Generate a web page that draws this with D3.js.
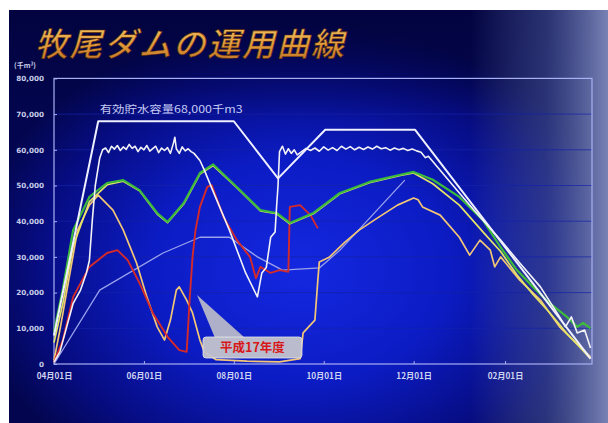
<!DOCTYPE html>
<html>
<head>
<meta charset="utf-8">
<script src="https://cdn.jsdelivr.net/npm/d3@7"></script>
<style>
  html, body { margin: 0; padding: 0; background: #ffffff; }
  svg { display: block; }
</style>
</head>
<body>
<svg id="chart" width="608" height="423"></svg>
<script>
// ---- data (storage in 千m³, dates as month/day within the water year Apr–Mar) ----
const titleText = "牧尾ダムの運用曲線";
const unitText = "(千m³)";
const capacityLabel = "有効貯水容量68,000千m3";
const calloutText = "平成17年度";

const yTicks = [0, 10000, 20000, 30000, 40000, 50000, 60000, 70000, 80000];
const xTicks = ["04/01", "06/01", "08/01", "10/01", "12/01", "02/01"];

// operating upper limit curve
const upperCurve = [
  ["04/01", 8000], ["05/01", 68000], ["08/01", 68000], ["08/31", 52000],
  ["10/02", 65600], ["12/02", 65600], ["03/31", 1500]
];

// storage (white)
const storageWhite = [
  ["04/01", 500], ["04/05", 3400], ["04/14", 17000], ["04/19", 20700], ["04/23", 25500],
  ["04/25", 29000], ["04/27", 40300], ["04/29", 50000], ["05/02", 57700], ["05/04", 60000],
  ["05/06", 60500], ["05/08", 59200], ["05/10", 61000], ["05/12", 60200], ["05/14", 61200],
  ["05/16", 59800], ["05/18", 60800], ["05/20", 60100], ["05/22", 61500], ["05/24", 60400],
  ["05/26", 61000], ["05/28", 59500], ["05/30", 60700], ["06/01", 60000], ["06/03", 61200],
  ["06/05", 59600], ["06/07", 60300], ["06/09", 61000], ["06/11", 59200], ["06/13", 60500],
  ["06/15", 59800], ["06/17", 60600], ["06/19", 59000], ["06/21", 61800], ["06/22", 63500],
  ["06/23", 60300], ["06/25", 59000], ["06/27", 60800], ["06/29", 59700], ["07/01", 60300],
  ["07/03", 59500], ["07/05", 59000], ["07/09", 57000], ["07/12", 54300], ["07/19", 47300],
  ["07/29", 37500], ["08/09", 25500], ["08/17", 18800], ["08/20", 25500], ["08/23", 27000],
  ["08/26", 35500], ["08/29", 37000], ["08/30", 44000], ["08/31", 50000], ["09/01", 59500],
  ["09/03", 61000], ["09/05", 58800], ["09/07", 60300], ["09/09", 59000], ["09/11", 60000],
  ["09/13", 58600], ["09/16", 59500], ["09/19", 60400], ["09/22", 59800], ["09/25", 60500],
  ["09/28", 59600], ["10/01", 60800], ["10/04", 59900], ["10/07", 60600], ["10/10", 59800],
  ["10/13", 61000], ["10/16", 60200], ["10/19", 60900], ["10/22", 60000], ["10/25", 60700],
  ["10/28", 60100], ["10/31", 60800], ["11/03", 60200], ["11/06", 61000], ["11/09", 60300],
  ["11/12", 60600], ["11/15", 59900], ["11/18", 60500], ["11/21", 60000], ["11/24", 60400],
  ["11/27", 59800], ["11/30", 60200], ["12/03", 59700], ["12/06", 59300], ["12/09", 57800],
  ["12/11", 58200], ["12/19", 54300], ["01/01", 47900], ["01/15", 41200], ["01/29", 34700],
  ["02/11", 28300], ["02/25", 21600], ["03/10", 13200], ["03/14", 10400], ["03/18", 13200],
  ["03/22", 8700], ["03/27", 9500], ["03/31", 4500]
];

// storage (green)
const storageGreen = [
  ["04/01", 9000], ["04/07", 21000], ["04/14", 37500], ["04/25", 46800], ["05/07", 50700],
  ["05/18", 51500], ["05/29", 48700], ["06/10", 42300], ["06/17", 39800], ["06/28", 45100],
  ["07/09", 53500], ["07/18", 55900], ["08/03", 49600], ["08/19", 43100], ["08/30", 42300],
  ["09/08", 39500], ["09/24", 42300], ["10/12", 47900], ["11/01", 51000], ["11/22", 53000],
  ["12/01", 53800], ["12/14", 51600], ["01/01", 46800], ["01/17", 40300], ["01/29", 32700],
  ["02/09", 26300], ["02/20", 21600], ["03/03", 17100], ["03/15", 13200], ["03/22", 10400],
  ["03/26", 11500], ["03/31", 10000]
];

// storage (yellow)
const storageYellow = [
  ["04/01", 6000], ["04/07", 17000], ["04/14", 33000], ["04/25", 45500], ["05/07", 50200],
  ["05/18", 51200], ["05/29", 48500], ["06/10", 42000], ["06/17", 39600], ["06/28", 44800],
  ["07/09", 53200], ["07/18", 55600], ["08/03", 49400], ["08/19", 42900], ["08/30", 42100],
  ["09/08", 39300], ["09/24", 42100], ["10/12", 47700], ["11/01", 50800], ["11/22", 52800],
  ["12/01", 53500], ["12/14", 50500], ["01/01", 44500], ["01/17", 37000], ["01/29", 31500],
  ["02/09", 25000], ["02/20", 19500], ["03/03", 14500], ["03/15", 8500], ["03/22", 5500],
  ["03/31", 1500]
];

// storage (gold)
const storageGold = [
  ["04/01", 1000], ["04/05", 9500], ["04/17", 37500], ["04/25", 44500], ["05/01", 47300],
  ["05/11", 43100], ["05/18", 37500], ["05/27", 28300], ["06/03", 18800], ["06/10", 10400],
  ["06/15", 6700], ["06/19", 12300], ["06/23", 20700], ["06/25", 21600], ["06/30", 17900],
  ["07/04", 14300], ["07/09", 6700], ["07/12", 3400], ["07/20", 1200], ["08/10", 800],
  ["09/01", 600], ["09/15", 1500], ["09/17", 8700], ["09/25", 12300], ["09/27", 23500],
  ["09/28", 28600], ["10/05", 30000], ["10/15", 34000], ["10/25", 37500], ["11/05", 40500],
  ["11/20", 44500], ["12/01", 46500], ["12/04", 46000], ["12/07", 44000], ["12/19", 41700],
  ["01/01", 35500], ["01/08", 30500], ["01/15", 34700], ["01/22", 31900], ["01/25", 27200],
  ["01/29", 30000], ["02/11", 23500], ["02/25", 17900], ["03/10", 10400], ["03/31", 2000]
];

// storage (lavender)
const storageLavender = [
  ["04/01", 0], ["05/02", 20700], ["06/14", 31100], ["07/09", 35500], ["07/29", 35500],
  ["08/17", 30000], ["09/03", 26300], ["09/28", 26900], ["10/12", 31900], ["11/25", 51500]
];

// storage 平成17年度 (red)
const storageRed = [
  ["04/01", 500], ["04/07", 6700], ["04/14", 18800], ["04/25", 27200], ["05/07", 31100],
  ["05/14", 31900], ["05/21", 29100], ["05/29", 22700], ["06/07", 14300], ["06/17", 7600],
  ["06/25", 3900], ["06/30", 3400], ["07/02", 17900], ["07/04", 30000], ["07/06", 37500],
  ["07/09", 44000], ["07/14", 49600], ["07/17", 50100], ["07/25", 41200], ["08/03", 34700],
  ["08/12", 30000], ["08/16", 24000], ["08/19", 27200], ["08/26", 25500], ["09/01", 26300],
  ["09/07", 25800], ["09/08", 44000], ["09/15", 44500], ["09/22", 41700], ["09/27", 38000]
];

// ---- helpers ----
const parseMD = s => {
  const [m, d] = s.split("/").map(Number);
  return new Date(m >= 4 ? 2005 : 2006, m - 1, d);
};

const svg = d3.select("#chart");
const W = 608, H = 423;
const plot = { left: 54, right: 592, top: 78.4, bottom: 364 };

const x = d3.scaleTime()
  .domain([new Date(2005, 3, 1), new Date(2006, 3, 1)])
  .range([plot.left, plot.right]);
const y = d3.scaleLinear().domain([0, 80000]).range([plot.bottom, plot.top]);

// ---- background ----
const defs = svg.append("defs");
const rg = defs.append("radialGradient").attr("id", "glow")
  .attr("gradientUnits", "userSpaceOnUse")
  .attr("cx", 300).attr("cy", 270).attr("r", 330)
  .attr("gradientTransform", "translate(300,270) scale(1,0.75) translate(-300,-270)");
rg.append("stop").attr("offset", "0%").attr("stop-color", "#1428e0");
rg.append("stop").attr("offset", "45%").attr("stop-color", "#0c1cc4");
rg.append("stop").attr("offset", "80%").attr("stop-color", "#060c80");
rg.append("stop").attr("offset", "100%").attr("stop-color", "#03064e");

const lg = defs.append("linearGradient").attr("id", "edge")
  .attr("gradientUnits", "userSpaceOnUse")
  .attr("x1", 470).attr("y1", 0).attr("x2", 608).attr("y2", 0);
lg.append("stop").attr("offset", "0%").attr("stop-color", "#5a68a8").attr("stop-opacity", 0);
lg.append("stop").attr("offset", "55%").attr("stop-color", "#4a5898").attr("stop-opacity", 0.55);
lg.append("stop").attr("offset", "100%").attr("stop-color", "#7882b4").attr("stop-opacity", 1);

const tg = defs.append("linearGradient").attr("id", "topShade")
  .attr("x1", 0).attr("y1", 0).attr("x2", 0).attr("y2", 1);
tg.append("stop").attr("offset", "0%").attr("stop-color", "#02033e").attr("stop-opacity", 0.9);
tg.append("stop").attr("offset", "100%").attr("stop-color", "#02033e").attr("stop-opacity", 0);

const titleGrad = defs.append("linearGradient").attr("id", "titleFill")
  .attr("x1", 0).attr("y1", 0).attr("x2", 0).attr("y2", 1);
titleGrad.append("stop").attr("offset", "0%").attr("stop-color", "#f8d070");
titleGrad.append("stop").attr("offset", "55%").attr("stop-color", "#e09a3c");
titleGrad.append("stop").attr("offset", "100%").attr("stop-color", "#b86a22");

svg.append("rect").attr("x", 9).attr("y", 10).attr("width", W - 9).attr("height", H - 10)
  .attr("fill", "url(#glow)");
svg.append("rect").attr("x", 9).attr("y", 10).attr("width", W - 9).attr("height", 110)
  .attr("fill", "url(#topShade)");
svg.append("rect").attr("x", 9).attr("y", 10).attr("width", W - 9).attr("height", H - 10)
  .attr("fill", "url(#edge)");

// ---- title ----
svg.append("text")
  .attr("x", 36).attr("y", 56)
  .attr("transform", "skewX(-14) translate(13,0)")
  .attr("font-family", "'Noto Sans CJK JP', 'Noto Sans', sans-serif")
  .attr("font-size", 32.5).attr("font-weight", 500)
  .attr("letter-spacing", 2)
  .attr("fill", "url(#titleFill)")
  .attr("stroke", "#5a2a08").attr("stroke-width", 0.6)
  .text(titleText);

// ---- grid (blends into the blue, shows on the lighter right edge) ----
svg.append("g").selectAll("line").data(yTicks.filter(d => d > 0 && d < 80000)).join("line")
  .attr("x1", plot.left).attr("x2", plot.right)
  .attr("y1", d => y(d)).attr("y2", d => y(d))
  .attr("stroke", "#1422a8").attr("stroke-opacity", 0.7).attr("stroke-width", 1);

// ---- frame ----
const frameColor = "#a8b0f4";
svg.append("rect")
  .attr("x", plot.left).attr("y", plot.top)
  .attr("width", plot.right - plot.left).attr("height", plot.bottom - plot.top)
  .attr("fill", "none").attr("stroke", frameColor).attr("stroke-width", 1.2);

// ---- axes ----
const fmtY = d3.format(",");
const yAxis = d3.axisLeft(y).tickValues(yTicks).tickSize(-3).tickPadding(10)
  .tickFormat(d => fmtY(d));
const gy = svg.append("g").attr("transform", `translate(${plot.left},0)`).call(yAxis);
gy.select(".domain").remove();
gy.selectAll("line").attr("stroke", frameColor);
gy.selectAll("text").attr("fill", "#c8cce8").attr("font-size", 7.2)
  .attr("font-family", "'DejaVu Sans', sans-serif").attr("font-weight", "bold");

const xTickDates = xTicks.map(parseMD);
const xAxis = d3.axisBottom(x).tickValues(xTickDates).tickSize(-3).tickPadding(9)
  .tickFormat(d3.timeFormat("%m月%d日"));
const gx = svg.append("g").attr("transform", `translate(0,${plot.bottom})`).call(xAxis);
gx.select(".domain").remove();
gx.selectAll("line").attr("stroke", frameColor);
gx.selectAll("text").attr("fill", "#d0d4f0").attr("font-size", 8.2)
  .attr("font-family", "'Noto Sans CJK JP', sans-serif").attr("font-weight", "bold");

svg.append("text").attr("x", 14).attr("y", 68)
  .attr("fill", "#c8cce8").attr("font-size", 7)
  .attr("font-family", "'Noto Sans CJK JP', sans-serif").attr("font-weight", "bold")
  .text(unitText);

// ---- series ----
const line = d3.line().x(d => x(parseMD(d[0]))).y(d => y(d[1]));
const series = [
  { data: storageLavender, color: "#9aa2ec", width: 1.3 },
  { data: storageGold, color: "#f2c676", width: 1.7 },
  { data: storageRed, color: "#d42a2a", width: 1.9 },
  { data: storageYellow, color: "#e4e468", width: 1.7 },
  { data: storageGreen, color: "#3cba3c", width: 2.2 },
  { data: storageWhite, color: "#f2f2f6", width: 1.6 },
  { data: upperCurve, color: "#eef0ff", width: 2.0 }
];
svg.append("g").selectAll("path").data(series).join("path")
  .attr("d", d => line(d.data))
  .attr("fill", "none")
  .attr("stroke", d => d.color)
  .attr("stroke-width", d => d.width)
  .attr("stroke-linejoin", "round");

// capacity label above the upper curve
svg.append("text")
  .attr("x", x(parseMD("05/02"))).attr("y", y(68000) - 8)
  .attr("fill", "#c6ccf6").attr("font-size", 10)
  .attr("font-family", "'Noto Sans CJK JP', sans-serif")
  .attr("textLength", 143).attr("lengthAdjust", "spacingAndGlyphs")
  .text(capacityLabel);

// ---- callout for 平成17年度 ----
const call = svg.append("g");
const bx = 203, by = 337, bw = 99, bh = 21;
call.append("path")
  .attr("d", `M197,295 L${bx + 12},${by + 1} L${bx + 42},${by + 1} Z`)
  .attr("fill", "#bcbcc8").attr("fill-opacity", 0.92);
call.append("rect")
  .attr("x", bx).attr("y", by).attr("width", bw).attr("height", bh).attr("rx", 3)
  .attr("fill", "#c4c4cc").attr("fill-opacity", 0.95)
  .attr("stroke", "#e4e4ec").attr("stroke-width", 0.8);
call.append("text")
  .attr("x", bx + bw / 2).attr("y", by + 15)
  .attr("text-anchor", "middle")
  .attr("fill", "#d81818").attr("font-size", 12.5).attr("font-weight", "bold")
  .attr("font-family", "'Noto Sans CJK JP', sans-serif")
  .text(calloutText);
</script>
</body>
</html>
